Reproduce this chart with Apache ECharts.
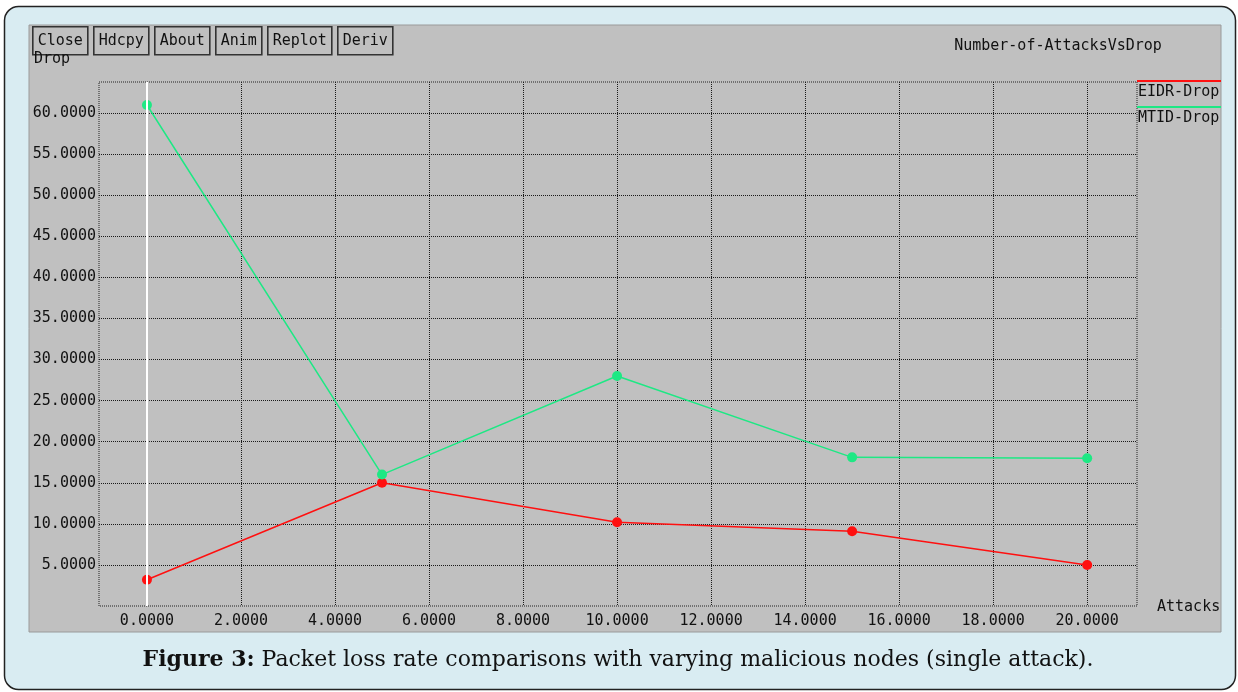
<!DOCTYPE html>
<html>
<head>
<meta charset="utf-8">
<title>Number-of-AttacksVsDrop</title>
<script src="https://cdn.jsdelivr.net/npm/echarts@6/dist/echarts.min.js"></script>
<style>
  html, body { margin: 0; padding: 0; background: #fff; }
  #main { width: 1238px; height: 692px; }
</style>
</head>
<body>
<div id="main"></div>
<script>
var attacks  = [0, 5, 10, 15, 20];
var eidrDrop = [3.2, 15, 10.2, 9.1, 5];
var mtidDrop = [61, 16, 28, 18.1, 18];
var xTicks   = [0, 2, 4, 6, 8, 10, 12, 14, 16, 18, 20];
var yTicks   = [5, 10, 15, 20, 25, 30, 35, 40, 45, 50, 55, 60];
var seriesNames = ['EIDR-Drop', 'MTID-Drop'];
var buttonLabels = ['Close', 'Hdcpy', 'About', 'Anim', 'Replot', 'Deriv'];
var chartTitle = 'Number-of-AttacksVsDrop';
var caption = 'Packet loss rate comparisons with varying malicious nodes (single attack).';

var RED = '#ff1010', GREEN = '#1ee884';
var MONO = '"DejaVu Sans Mono", monospace';
var chart = echarts.init(document.getElementById('main'));

function pairs(ys) {
    return attacks.map(function (x, i) { return [x, ys[i]]; });
}

// xgraph style buttons across the top
var btns = [];
var bx = 32;
buttonLabels.forEach(function (t) {
    var w = t.length * 9 + 11;
    btns.push({
        type: 'group', left: bx, top: 26, z: 20,
        children: [
            { type: 'rect', shape: { x: 0.5, y: 0.5, width: w - 1, height: 28 },
              style: { fill: '#c0c0c0', stroke: '#333', lineWidth: 1.6 } },
            { type: 'text', x: w / 2, y: 15,
              style: { text: t, font: '15px ' + MONO, fill: '#111', align: 'center', verticalAlign: 'middle' } }
        ]
    });
    bx += w + 5;
});

var option = {
    animation: false,
    backgroundColor: '#fff',
    graphic: [
        { type: 'rect', z: -10, shape: { x: 4.5, y: 6.5, width: 1231, height: 683, r: 14 },
          style: { fill: '#d9ecf2', stroke: '#222', lineWidth: 1.5 } },
        { type: 'rect', z: -9, shape: { x: 29, y: 25, width: 1192, height: 607 },
          style: { fill: '#c0c0c0', stroke: '#9a9a9a', lineWidth: 1 } },
        { type: 'text', z: 5, left: 34, top: 52,
          style: { text: 'Drop', font: '15px ' + MONO, fill: '#111' } },
        { type: 'text', z: 5, x: 1058, y: 46,
          style: { text: chartTitle, font: '15px ' + MONO, fill: '#111', align: 'center', verticalAlign: 'middle' } },
        { type: 'text', z: 5, x: 1157, y: 607,
          style: { text: 'Attacks', font: '15px ' + MONO, fill: '#111', verticalAlign: 'middle' } },
        // legend
        { type: 'line', z: 5, shape: { x1: 1137, y1: 81, x2: 1221, y2: 81 }, style: { stroke: RED, lineWidth: 2 } },
        { type: 'text', z: 5, x: 1138, y: 92,
          style: { text: seriesNames[0], font: '15px ' + MONO, fill: '#111', verticalAlign: 'middle' } },
        { type: 'line', z: 5, shape: { x1: 1137, y1: 107, x2: 1221, y2: 107 }, style: { stroke: GREEN, lineWidth: 2 } },
        { type: 'text', z: 5, x: 1138, y: 118,
          style: { text: seriesNames[1], font: '15px ' + MONO, fill: '#111', verticalAlign: 'middle' } },
        { type: 'text', z: 5, x: 618, y: 660,
          style: {
              text: '{b|Figure 3:} ' + caption,
              font: '22px "DejaVu Serif", serif', fill: '#111',
              align: 'center', verticalAlign: 'middle',
              rich: { b: { font: 'bold 22px "DejaVu Serif", serif', fill: '#111' } }
          } }
    ].concat(btns),
    grid: {
        left: 99, right: 101, top: 82, bottom: 86,
        show: true, backgroundColor: 'transparent',
        borderColor: '#222', borderWidth: 1, borderType: 'dotted'
    },
    xAxis: {
        type: 'value', min: -1.02, max: 21.06,
        axisLine: { show: false },
        axisTick: { show: false, customValues: xTicks },
        splitLine: { show: true, lineStyle: { color: '#1a1a1a', type: 'dotted', width: 1 } },
        axisLabel: {
            customValues: xTicks, margin: 8, color: '#111',
            fontFamily: MONO, fontSize: 15,
            formatter: function (v) { return v.toFixed(4); }
        }
    },
    yAxis: {
        type: 'value', min: 0, max: 63.8,
        axisLine: { show: false },
        axisTick: { show: false, customValues: yTicks },
        splitLine: { show: true, lineStyle: { color: '#1a1a1a', type: 'dotted', width: 1 } },
        axisLabel: {
            customValues: yTicks, margin: 3, color: '#111',
            fontFamily: MONO, fontSize: 15,
            formatter: function (v) { return v.toFixed(4); }
        }
    },
    series: [
        {
            // white zero line, kept under the data
            type: 'line', data: [], z: 2, silent: true,
            markLine: {
                silent: true, symbol: 'none', label: { show: false },
                lineStyle: { color: '#fff', type: 'solid', width: 2 },
                data: [{ xAxis: 0 }]
            }
        },
        {
            name: seriesNames[0], type: 'line', data: pairs(eidrDrop),
            symbol: 'circle', symbolSize: 10, z: 4,
            lineStyle: { color: RED, width: 1.5 }, itemStyle: { color: RED }
        },
        {
            name: seriesNames[1], type: 'line', data: pairs(mtidDrop),
            symbol: 'circle', symbolSize: 10, z: 4,
            lineStyle: { color: GREEN, width: 1.5 }, itemStyle: { color: GREEN }
        }
    ]
};
chart.setOption(option);
</script>
</body>
</html>
